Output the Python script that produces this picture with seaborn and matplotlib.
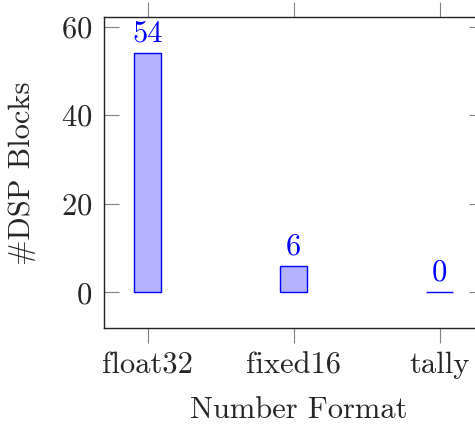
import matplotlib
matplotlib.use("Agg")
import matplotlib.pyplot as plt
import seaborn as sns
import pandas as pd

# DSP block usage per number format
formats = ["float32", "fixed16", "tally"]
dsp_blocks = [54, 6, 0]

df = pd.DataFrame({"format": formats, "dsp": dsp_blocks})

sns.set_theme(style="white")
plt.rcParams["font.family"] = ["cmr10", "DejaVu Serif"]
plt.rcParams["mathtext.fontset"] = "cm"
plt.rcParams["axes.formatter.use_mathtext"] = True

FS = 22

fig = plt.figure(figsize=(4.75, 4.24), dpi=100)
ax = fig.add_axes([0.218, 0.2257, 0.801, 0.7333])

sns.barplot(data=df, x="format", y="dsp", ax=ax, width=0.186,
            color="#b3b3ff", saturation=1, edgecolor="#0000ff", linewidth=1.0)

for cont in ax.containers:
    ax.bar_label(cont, labels=[str(v) for v in dsp_blocks], padding=4,
                 color="#0000ff", fontsize=FS)

ax.set_xlim(-0.303, 2.303)
ax.set_ylim(-8.1, 62.1)
ax.set_yticks([0, 20, 40, 60])

ax.set_xlabel("Number Format", fontsize=FS)
ax.set_ylabel("#DSP Blocks", fontsize=FS, labelpad=18)
ax.xaxis.set_label_coords(0.513, -0.218)

for s in ax.spines.values():
    s.set_visible(True)
    s.set_color("#222222")
    s.set_linewidth(1.0)

ax.tick_params(axis="x", which="both", direction="out", length=11, width=0.8,
               color="#808080", labelsize=FS, pad=6, top=True, bottom=True)
ax.tick_params(axis="y", which="both", direction="in", length=11, width=0.8,
               color="#808080", labelsize=FS, pad=8, left=True, right=True)

fig.savefig("out.png", dpi=100)
